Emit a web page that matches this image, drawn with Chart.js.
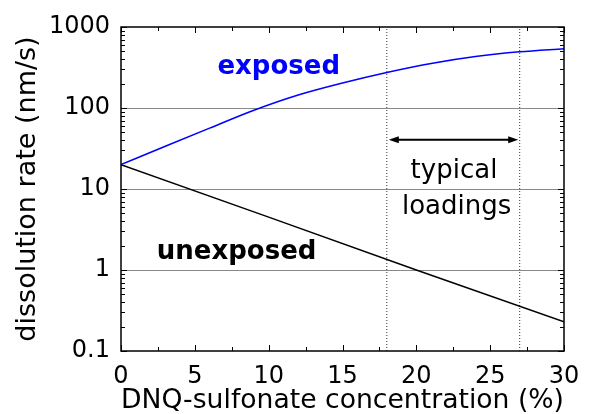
<!DOCTYPE html>
<html>
<head>
<meta charset="utf-8">
<script src="https://cdn.jsdelivr.net/npm/chart.js@4.4.0/dist/chart.umd.min.js"></script>
<style>
  html, body { margin: 0; padding: 0; background: #fff; }
  #wrap { width: 593px; height: 414px; position: relative; }
</style>
</head>
<body>
<div id="wrap"><canvas id="rateChart"></canvas></div>
<script>
// values
const concentration = [0, 3, 6, 9, 12, 15, 18, 21, 24, 27, 30];
const exposedRate   = [20, 33.7, 56.5, 94, 145, 204, 275, 355, 432, 495, 540];
const unexposedX    = [0, 10, 20, 30];
const unexposedRate = [20, 4.5, 1.0, 0.23];
const xTicks      = [0, 5, 10, 15, 20, 25, 30];
const xMinorTicks = [2.5, 7.5, 12.5, 17.5, 22.5, 27.5];
const yTicks      = [0.1, 1, 10, 100, 1000];
const loadingRange = [18, 27];

const FONT = '"DejaVu Sans", Verdana, sans-serif';

const toPoints = (xs, ys) => xs.map((v, i) => ({ x: v, y: ys[i] }));
const vLine = (v) => [{ x: v, y: yTicks[0] }, { x: v, y: yTicks[yTicks.length - 1] }];

// frame, inward ticks, arrow and labels
const decorPlugin = {
  id: "decor",
  afterDatasetsDraw(chart) {
    const { ctx, chartArea: a, scales: { x, y } } = chart;
    ctx.save();

    // tick marks pointing in
    ctx.strokeStyle = "#000";
    ctx.lineWidth = 1;
    const xMark = (v, len) => {
      const px = Math.round(x.getPixelForValue(v)) + 0.5;
      ctx.beginPath();
      ctx.moveTo(px, a.bottom); ctx.lineTo(px, a.bottom - len);
      ctx.moveTo(px, a.top);    ctx.lineTo(px, a.top + len);
      ctx.stroke();
    };
    const yMark = (v, len) => {
      const py = Math.round(y.getPixelForValue(v)) + 0.5;
      ctx.beginPath();
      ctx.moveTo(a.left, py);  ctx.lineTo(a.left + len, py);
      ctx.moveTo(a.right, py); ctx.lineTo(a.right - len, py);
      ctx.stroke();
    };
    xTicks.forEach(v => xMark(v, 6));
    xMinorTicks.forEach(v => xMark(v, 4));
    yTicks.forEach(v => yMark(v, 6));
    yTicks.slice(0, -1).forEach(d => {
      for (let k = 2; k <= 9; k++) yMark(d * k, 4);
    });

    // frame
    ctx.lineWidth = 1.5;
    ctx.strokeRect(a.left, a.top, a.right - a.left, a.bottom - a.top);

    // double arrow between the loading lines
    const ay = y.getPixelForValue(40.6);
    const x1 = x.getPixelForValue(loadingRange[0]) + 2;
    const x2 = x.getPixelForValue(loadingRange[1]) - 1.5;
    ctx.lineWidth = 2;
    ctx.beginPath();
    ctx.moveTo(x1 + 6, ay); ctx.lineTo(x2 - 6, ay);
    ctx.stroke();
    ctx.fillStyle = "#000";
    ctx.beginPath();
    ctx.moveTo(x1, ay); ctx.lineTo(x1 + 10, ay - 3.5); ctx.lineTo(x1 + 10, ay + 3.5); ctx.closePath();
    ctx.moveTo(x2, ay); ctx.lineTo(x2 - 10, ay - 3.5); ctx.lineTo(x2 - 10, ay + 3.5); ctx.closePath();
    ctx.fill();

    // labels
    ctx.textAlign = "center";
    ctx.textBaseline = "alphabetic";
    ctx.font = "bold 26px " + FONT;
    ctx.fillStyle = "#0000ff";
    ctx.fillText("exposed", x.getPixelForValue(10.68), y.getPixelForValue(261));
    ctx.fillStyle = "#000";
    ctx.fillText("unexposed", x.getPixelForValue(7.83), y.getPixelForValue(1.36));
    ctx.font = "26px " + FONT;
    ctx.fillText("typical", x.getPixelForValue(22.55), y.getPixelForValue(13.6));
    ctx.fillText("loadings", x.getPixelForValue(22.73), y.getPixelForValue(4.88));

    ctx.restore();
  }
};

new Chart(document.getElementById("rateChart").getContext("2d"), {
  type: "line",
  data: {
    datasets: [
      { data: toPoints(concentration, exposedRate), borderColor: "#0000ff", borderWidth: 1.5,
        pointRadius: 0, cubicInterpolationMode: "monotone", fill: false },
      { data: toPoints(unexposedX, unexposedRate), borderColor: "#000", borderWidth: 1.5,
        pointRadius: 0, fill: false },
      { data: vLine(loadingRange[0]), borderColor: "#333", borderWidth: 1, borderDash: [1, 2], pointRadius: 0 },
      { data: vLine(loadingRange[1]), borderColor: "#333", borderWidth: 1, borderDash: [1, 2], pointRadius: 0 }
    ]
  },
  options: {
    responsive: true,
    maintainAspectRatio: false,
    animation: false,
    layout: { padding: { top: 27, right: 29, left: 0, bottom: 0 } },
    plugins: { legend: { display: false }, tooltip: { enabled: false } },
    scales: {
      x: {
        type: "linear", min: 0, max: 30,
        afterBuildTicks: s => { s.ticks = xTicks.map(v => ({ value: v })); },
        afterFit: s => { s.height = 63; },
        grid: { display: false },
        border: { display: false },
        ticks: { color: "#000", padding: 3, maxRotation: 0, font: { family: FONT, size: 24, lineHeight: 1.2 },
                 callback: v => String(v) },
        title: { display: true, text: "DNQ-sulfonate concentration (%)", color: "#000",
                 padding: 0, font: { family: FONT, size: 27, lineHeight: 1 } }
      },
      y: {
        type: "logarithmic", min: 0.1, max: 1000,
        afterBuildTicks: s => { s.ticks = yTicks.map(v => ({ value: v })); },
        afterFit: s => { s.width = 121; },
        grid: { drawTicks: false, lineWidth: 1,
                color: c => (c.tick && c.tick.value > 0.1 && c.tick.value < 1000) ? "#888" : "rgba(0,0,0,0)" },
        border: { display: false },
        ticks: { color: "#000", padding: 11, font: { family: FONT, size: 24 },
                 callback: v => String(v) },
        title: { display: true, text: "dissolution rate (nm/s)", color: "#000",
                 padding: { top: 14, bottom: 0 }, font: { family: FONT, size: 27, lineHeight: 1 } }
      }
    }
  },
  plugins: [decorPlugin]
});
</script>
</body>
</html>
